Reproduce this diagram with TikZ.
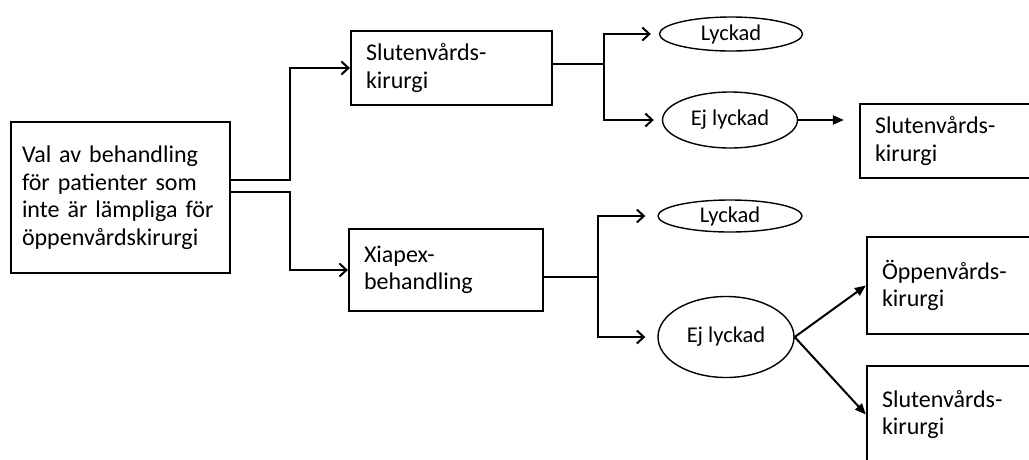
\documentclass[tikz,border=0pt]{standalone}
\usepackage{fontspec}
\setmainfont{Carlito}
\usetikzlibrary{arrows.meta, positioning, shapes.geometric}

\begin{document}
\begin{tikzpicture}[
  x=1pt, y=-1pt,
  font=\fontsize{24}{27.5}\selectfont,
  box/.style={draw, line width=2.2pt, align=left, inner xsep=15pt, text width=#1},
  utfall/.style={draw, ellipse, line width=1.4pt, inner sep=0pt, font=\fontsize{22.5}{26}\selectfont},
  pil/.style={line width=2pt, -{Straight Barb[length=7pt, width=13pt, line width=2pt]}},
  spets/.style={line width=2pt, -{Triangle[length=11pt, width=9pt]}}
]
\clip (0,0) rectangle (1029,459);
% vänster: valet
\node[box=197pt, inner xsep=11pt, minimum height=151pt] (val) at (120.5,197.5) {Val av behandling\\för patienter som\\inte är lämpliga för\\öppenvårdskirurgi};
% mitten: de två behandlingarna
\node[box=171pt, minimum height=74pt] (sluten) at (451.5,68) {Slutenvårds-\\kirurgi};
\node[box=164pt, minimum height=82pt] (xiapex) at (446,270) {Xiapex-\\behandling};
% utfall
\node[utfall, minimum width=143pt, minimum height=34pt] (lyckadA) at (731,34) {Lyckad};
\node[utfall, minimum width=135pt, minimum height=56pt] (ejlyckadA) at (730,120) {Ej lyckad};
\node[utfall, minimum width=144pt, minimum height=32pt] (lyckadB) at (730,216) {Lyckad};
\node[utfall, minimum width=136pt, minimum height=81pt] (ejlyckadB) at (726,337) {Ej lyckad};
% höger: nästa steg
\node[box=170pt, minimum height=74pt] (slutenA) at (960,141) {Slutenvårds-\\kirurgi};
\node[box=170pt, minimum height=97pt] (oppen) at (967,285.5) {Öppenvårds-\\kirurgi};
\node[box=170pt, minimum height=97pt] (slutenB) at (967,414.5) {Slutenvårds-\\kirurgi};
% pilar
\draw[pil] ([yshift=17.5pt]val.east) -- ++(59,0) |- (sluten.west);
\draw[pil] ([yshift=5.5pt]val.east) -- ++(59,0) |- (xiapex.west);
\draw[pil, shorten >=8pt] ([yshift=4pt]sluten.east) -- ++(51,0) |- (lyckadA.west);
\draw[pil, shorten >=8pt] ([yshift=4pt]sluten.east) -- ++(51,0) |- (ejlyckadA.west);
\draw[pil, shorten >=12pt] ([yshift=-7pt]xiapex.east) -- ++(54,0) |- (lyckadB.west);
\draw[pil, shorten >=12pt] ([yshift=-7pt]xiapex.east) -- ++(54,0) |- (ejlyckadB.west);
\draw[spets, shorten >=15pt] (ejlyckadA.east) -- (ejlyckadA.east -| slutenA.west);
\draw[spets] (ejlyckadB.east) -- (oppen.west);
\draw[spets] (ejlyckadB.east) -- (slutenB.west);
\end{tikzpicture}
\end{document}
